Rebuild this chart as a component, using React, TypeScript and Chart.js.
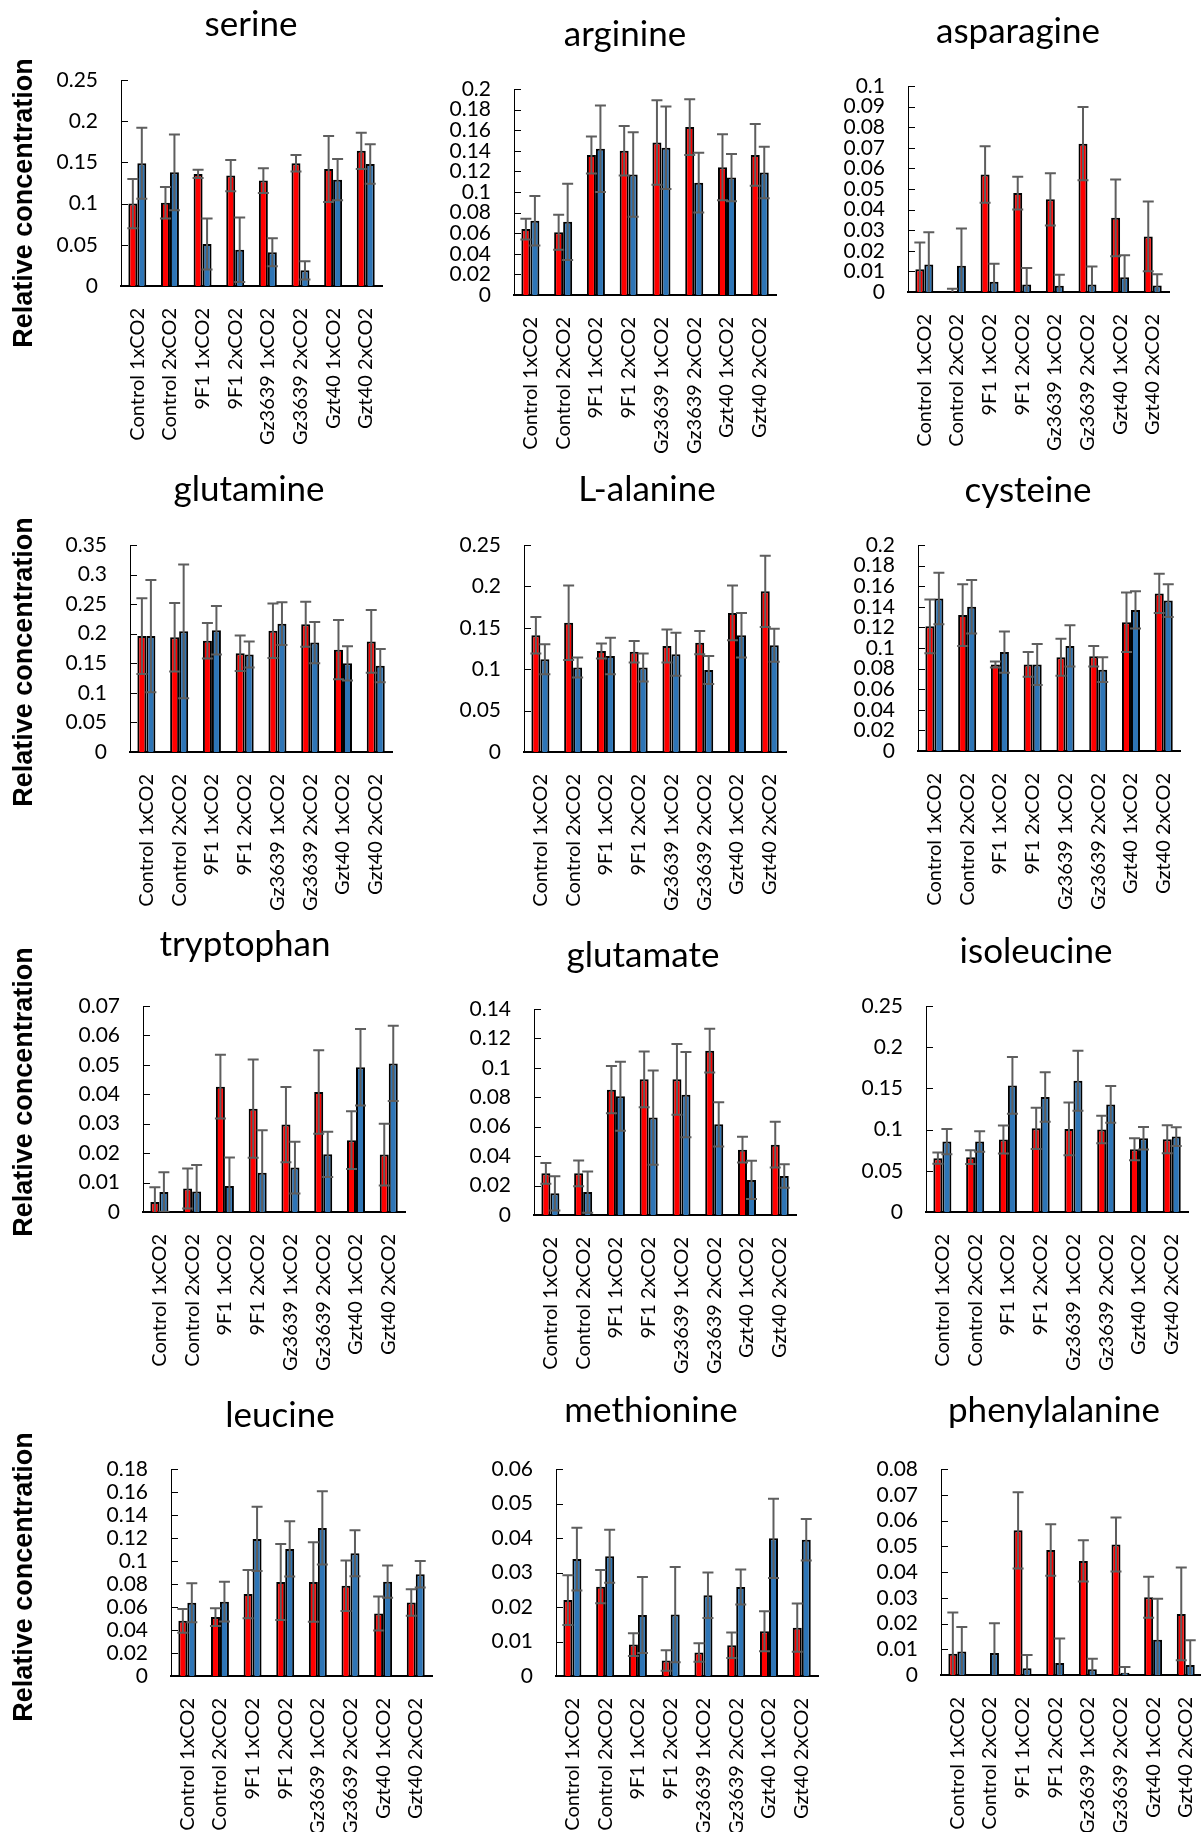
import React, { useEffect, useRef } from 'react';
import { Chart, registerables } from 'chart.js';

Chart.register(...registerables);

const categories = [
  'Control 1xCO2', 'Control 2xCO2', '9F1 1xCO2', '9F1 2xCO2',
  'Gz3639 1xCO2', 'Gz3639 2xCO2', 'Gzt40 1xCO2', 'Gzt40 2xCO2',
];

const serineRed = [0.100, 0.101, 0.136, 0.134, 0.128, 0.149, 0.142, 0.164];
const serineRedErr = [0.030, 0.019, 0.005, 0.019, 0.015, 0.010, 0.040, 0.022];
const serineBlue = [0.149, 0.138, 0.051, 0.044, 0.041, 0.019, 0.129, 0.148];
const serineBlueErr = [0.043, 0.046, 0.031, 0.039, 0.017, 0.011, 0.025, 0.024];

const arginineRed = [0.064, 0.061, 0.136, 0.140, 0.148, 0.163, 0.124, 0.136];
const arginineRedErr = [0.010, 0.017, 0.018, 0.024, 0.041, 0.027, 0.032, 0.030];
const arginineBlue = [0.072, 0.071, 0.142, 0.117, 0.143, 0.109, 0.114, 0.119];
const arginineBlueErr = [0.024, 0.037, 0.042, 0.041, 0.040, 0.029, 0.023, 0.025];

const asparagineRed = [0.011, 0.0003, 0.057, 0.048, 0.045, 0.072, 0.036, 0.027];
const asparagineRedErr = [0.013, 0.0013, 0.0137, 0.008, 0.0127, 0.0178, 0.0186, 0.0169];
const asparagineBlue = [0.0134, 0.0128, 0.005, 0.0037, 0.003, 0.0037, 0.0071, 0.0032];
const asparagineBlueErr = [0.0156, 0.018, 0.0087, 0.008, 0.0054, 0.0087, 0.0107, 0.0054];

const glutamineRed = [0.196, 0.194, 0.188, 0.167, 0.205, 0.216, 0.173, 0.187];
const glutamineRedErr = [0.064, 0.058, 0.030, 0.030, 0.046, 0.038, 0.050, 0.053];
const glutamineBlue = [0.196, 0.204, 0.206, 0.165, 0.217, 0.185, 0.150, 0.146];
const glutamineBlueErr = [0.095, 0.113, 0.041, 0.022, 0.036, 0.035, 0.029, 0.028];

const alanineRed = [0.141, 0.156, 0.122, 0.121, 0.128, 0.132, 0.168, 0.194];
const alanineRedErr = [0.022, 0.045, 0.009, 0.013, 0.020, 0.014, 0.033, 0.043];
const alanineBlue = [0.112, 0.102, 0.116, 0.102, 0.118, 0.099, 0.141, 0.129];
const alanineBlueErr = [0.018, 0.012, 0.022, 0.017, 0.026, 0.017, 0.027, 0.020];

const cysteineRed = [0.121, 0.132, 0.084, 0.084, 0.091, 0.092, 0.125, 0.153];
const cysteineRedErr = [0.026, 0.030, 0.003, 0.012, 0.018, 0.010, 0.029, 0.019];
const cysteineBlue = [0.148, 0.140, 0.096, 0.084, 0.102, 0.079, 0.137, 0.146];
const cysteineBlueErr = [0.025, 0.026, 0.020, 0.020, 0.020, 0.012, 0.018, 0.016];

const tryptophanRed = [0.0034, 0.008, 0.0426, 0.0351, 0.0297, 0.0408, 0.0244, 0.0195];
const tryptophanRedErr = [0.005, 0.0068, 0.0108, 0.0167, 0.0128, 0.0142, 0.0098, 0.0105];
const tryptophanBlue = [0.0068, 0.007, 0.0088, 0.0133, 0.0151, 0.0196, 0.0492, 0.0505];
const tryptophanBlueErr = [0.0067, 0.009, 0.0097, 0.0145, 0.0088, 0.0077, 0.013, 0.0128];

const glutamateRed = [0.0283, 0.0283, 0.0852, 0.0922, 0.0922, 0.1117, 0.0444, 0.0478];
const glutamateRedErr = [0.0071, 0.0088, 0.016, 0.019, 0.024, 0.0148, 0.0087, 0.0156];
const glutamateBlue = [0.0147, 0.0156, 0.0807, 0.0662, 0.0818, 0.0616, 0.0238, 0.0265];
const glutamateBlueErr = [0.0116, 0.014, 0.0235, 0.032, 0.029, 0.015, 0.013, 0.008];

const isoleucineRed = [0.0653, 0.0665, 0.0879, 0.1016, 0.1008, 0.100, 0.0762, 0.0883];
const isoleucineRedErr = [0.0068, 0.0083, 0.017, 0.025, 0.032, 0.0167, 0.0133, 0.017];
const isoleucineBlue = [0.0855, 0.0855, 0.1536, 0.1395, 0.1593, 0.1306, 0.0895, 0.0915];
const isoleucineBlueErr = [0.0153, 0.0125, 0.0345, 0.030, 0.0363, 0.0222, 0.0137, 0.0113];

const leucineRed = [0.048, 0.0512, 0.0712, 0.0817, 0.0817, 0.0785, 0.0544, 0.064];
const leucineRedErr = [0.0103, 0.0077, 0.021, 0.033, 0.0346, 0.022, 0.0148, 0.0115];
const leucineBlue = [0.0637, 0.0646, 0.1192, 0.1105, 0.1288, 0.1067, 0.082, 0.0885];
const leucineBlueErr = [0.0169, 0.0173, 0.028, 0.024, 0.0318, 0.020, 0.014, 0.0115];

const methionineRed = [0.022, 0.0259, 0.0091, 0.0045, 0.0068, 0.0089, 0.013, 0.014];
const methionineRedErr = [0.0072, 0.0048, 0.0033, 0.003, 0.0027, 0.0037, 0.0058, 0.007];
const methionineBlue = [0.0339, 0.0347, 0.0177, 0.0178, 0.0234, 0.0258, 0.0399, 0.0395];
const methionineBlueErr = [0.0091, 0.0077, 0.011, 0.0138, 0.0066, 0.0051, 0.0115, 0.006];

const phenylalanineRed = [0.0083, 0, 0.0562, 0.0485, 0.0443, 0.0507, 0.0302, 0.0237];
const phenylalanineRedErr = [0.016, 0, 0.0148, 0.01, 0.008, 0.0105, 0.008, 0.018];
const phenylalanineBlue = [0.0091, 0.0085, 0.0026, 0.0047, 0.0022, 0.0009, 0.0137, 0.0039];
const phenylalanineBlueErr = [0.0095, 0.0116, 0.0052, 0.0095, 0.0041, 0.0022, 0.0159, 0.0096];

const Y_TITLE = 'Relative concentration';

const RED = '#FF0000';
const BLUE = '#2E75B6';
const FONT = 'Lato';

type PanelSpec = {
  title: string;
  red: number[]; redErr: number[]; blue: number[]; blueErr: number[];
  max: number; step: number;
  plot: [number, number, number, number]; // L, T, R, B
  titleAt: [number, number];
  leftCol: boolean;
  yTitleY?: number;
};

const panels: PanelSpec[] = [
  { title: 'serine', red: serineRed, redErr: serineRedErr, blue: serineBlue, blueErr: serineBlueErr, max: 0.25, step: 0.05, plot: [121, 80, 393, 286], titleAt: [251, 36], leftCol: true, yTitleY: 203 },
  { title: 'arginine', red: arginineRed, redErr: arginineRedErr, blue: arginineBlue, blueErr: arginineBlueErr, max: 0.2, step: 0.02, plot: [514, 89, 787, 295], titleAt: [625, 46], leftCol: false },
  { title: 'asparagine', red: asparagineRed, redErr: asparagineRedErr, blue: asparagineBlue, blueErr: asparagineBlueErr, max: 0.1, step: 0.01, plot: [908, 86, 1180, 292], titleAt: [1018, 43], leftCol: false },
  { title: 'glutamine', red: glutamineRed, redErr: glutamineRedErr, blue: glutamineBlue, blueErr: glutamineBlueErr, max: 0.35, step: 0.05, plot: [130, 545, 403, 752], titleAt: [249, 501], leftCol: true, yTitleY: 662 },
  { title: 'L-alanine', red: alanineRed, redErr: alanineRedErr, blue: alanineBlue, blueErr: alanineBlueErr, max: 0.25, step: 0.05, plot: [524, 545, 797, 752], titleAt: [647, 501], leftCol: false },
  { title: 'cysteine', red: cysteineRed, redErr: cysteineRedErr, blue: cysteineBlue, blueErr: cysteineBlueErr, max: 0.2, step: 0.02, plot: [918, 545, 1191, 751], titleAt: [1028, 502], leftCol: false },
  { title: 'tryptophan', red: tryptophanRed, redErr: tryptophanRedErr, blue: tryptophanBlue, blueErr: tryptophanBlueErr, max: 0.07, step: 0.01, plot: [143, 1006, 416, 1212], titleAt: [245, 956], leftCol: true, yTitleY: 1092 },
  { title: 'glutamate', red: glutamateRed, redErr: glutamateRedErr, blue: glutamateBlue, blueErr: glutamateBlueErr, max: 0.14, step: 0.02, plot: [534, 1009, 807, 1215], titleAt: [643, 967], leftCol: false },
  { title: 'isoleucine', red: isoleucineRed, redErr: isoleucineRedErr, blue: isoleucineBlue, blueErr: isoleucineBlueErr, max: 0.25, step: 0.05, plot: [926, 1006, 1199, 1212], titleAt: [1036, 963], leftCol: false },
  { title: 'leucine', red: leucineRed, redErr: leucineRedErr, blue: leucineBlue, blueErr: leucineBlueErr, max: 0.18, step: 0.02, plot: [171, 1469, 443, 1676], titleAt: [280, 1427], leftCol: true, yTitleY: 1577 },
  { title: 'methionine', red: methionineRed, redErr: methionineRedErr, blue: methionineBlue, blueErr: methionineBlueErr, max: 0.06, step: 0.01, plot: [556, 1469, 829, 1676], titleAt: [651, 1422], leftCol: false },
  { title: 'phenylalanine', red: phenylalanineRed, redErr: phenylalanineRedErr, blue: phenylalanineBlue, blueErr: phenylalanineBlueErr, max: 0.08, step: 0.01, plot: [941, 1469, 1213, 1675], titleAt: [1054, 1422], leftCol: false },
];

const TOP_SPACE = 100;
const BOTTOM_SPACE = 185;
const RIGHT_SPACE = 20;

const decorPlugin = {
  id: 'decor',
  afterDatasetsDraw(chart: any, _args: any, opts: any) {
    const { ctx, chartArea } = chart;
    const yScale = chart.scales.y;
    ctx.save();
    ctx.beginPath();
    ctx.rect(chartArea.left, chartArea.top - 40, chartArea.right - chartArea.left + 40, chartArea.bottom - chartArea.top + 40);
    ctx.clip();
    ctx.strokeStyle = '#5E5E5E';
    ctx.lineWidth = 2;
    const cap = 5.5;
    chart.data.datasets.forEach((ds: any, i: number) => {
      const meta = chart.getDatasetMeta(i);
      meta.data.forEach((el: any, j: number) => {
        const v = ds.data[j];
        const e = ds.errors[j];
        if (!e) return;
        const x = el.x;
        const yt = yScale.getPixelForValue(v + e);
        const yb = yScale.getPixelForValue(v - e);
        ctx.beginPath();
        ctx.moveTo(x, yt); ctx.lineTo(x, yb);
        ctx.moveTo(x - cap, yt); ctx.lineTo(x + cap, yt);
        if (v - e >= 0) { ctx.moveTo(x - cap, yb); ctx.lineTo(x + cap, yb); }
        ctx.stroke();
      });
    });
    ctx.restore();

    // inside tick marks on the value axis
    ctx.save();
    ctx.strokeStyle = '#000';
    ctx.lineWidth = 1;
    yScale.ticks.forEach((t: any) => {
      const y = Math.round(yScale.getPixelForValue(t.value)) + 0.5;
      ctx.beginPath();
      ctx.moveTo(chartArea.left, y);
      ctx.lineTo(chartArea.left + 7, y);
      ctx.stroke();
    });
    ctx.restore();
  },
  afterDraw(chart: any, _args: any, opts: any) {
    const { ctx } = chart;
    ctx.save();
    ctx.fillStyle = '#000';
    ctx.font = `35px ${FONT}`;
    ctx.textAlign = 'center';
    ctx.textBaseline = 'alphabetic';
    ctx.fillText(opts.title, opts.titleX, opts.titleY);
    if (opts.yTitle) {
      ctx.translate(opts.yTitleX, opts.yTitleY);
      ctx.rotate(-Math.PI / 2);
      ctx.font = 'bold 27px "Liberation Sans", Arial, sans-serif';
      ctx.fillText(opts.yTitle, 0, 0);
    }
    ctx.restore();
  },
};

function fmt(v: number) {
  return String(Number(Number(v).toFixed(4)));
}

function PanelChart({ spec }: { spec: PanelSpec }) {
  const ref = useRef<HTMLCanvasElement | null>(null);
  const [L, T, R, B] = spec.plot;
  const cl = spec.leftCol ? 0 : L - 130;
  const ct = T - TOP_SPACE;
  const cw = R + RIGHT_SPACE - cl;
  const ch = B + BOTTOM_SPACE - ct;
  const yw = L - cl;
  const xh = BOTTOM_SPACE;

  useEffect(() => {
    if (!ref.current) return;
    const chart = new Chart(ref.current, {
      type: 'bar',
      data: {
        labels: categories,
        datasets: [
          { label: '1', data: spec.red, errors: spec.redErr, backgroundColor: RED, borderColor: '#000', borderWidth: 2 } as any,
          { label: '2', data: spec.blue, errors: spec.blueErr, backgroundColor: BLUE, borderColor: '#000', borderWidth: 2 } as any,
        ],
      },
      plugins: [decorPlugin as any],
      options: {
        animation: false,
        responsive: false,
        maintainAspectRatio: false,
        events: [],
        devicePixelRatio: 1,
        layout: { padding: { left: 0, top: TOP_SPACE, right: RIGHT_SPACE, bottom: 0 } },
        datasets: { bar: { categoryPercentage: 0.55, barPercentage: 1 } },
        plugins: {
          legend: { display: false },
          tooltip: { enabled: false },
          title: { display: false },
          decor: {
            title: spec.title,
            titleX: spec.titleAt[0] - cl,
            titleY: spec.titleAt[1] - ct,
            yTitle: spec.leftCol ? Y_TITLE : null,
            yTitleX: 31.5 - cl,
            yTitleY: (spec.yTitleY || 0) - ct,
          },
        } as any,
        scales: {
          x: {
            type: 'category',
            offset: true,
            grid: { display: false, drawTicks: false },
            border: { display: true, color: '#000', width: 2 },
            ticks: {
              autoSkip: false,
              minRotation: 90,
              maxRotation: 90,
              padding: 22,
              color: '#000',
              font: { family: FONT, size: 20 },
            },
            afterFit: (s: any) => { s.height = xh; },
          },
          y: {
            type: 'linear',
            min: 0,
            max: spec.max,
            grid: { display: false, drawTicks: false },
            border: { display: true, color: '#000', width: 1 },
            ticks: {
              autoSkip: false,
              padding: 23,
              color: '#000',
              font: { family: FONT, size: 21 },
              callback: (v: any) => fmt(v),
            },
            afterBuildTicks: (s: any) => {
              const n = Math.round(spec.max / spec.step);
              const t = [];
              for (let i = 0; i <= n; i++) t.push({ value: Number((i * spec.step).toFixed(4)) });
              s.ticks = t;
            },
            afterFit: (s: any) => { s.width = yw; },
          },
        },
      } as any,
    });
    return () => chart.destroy();
  }, [spec]);

  return (
    <canvas
      ref={ref}
      width={cw}
      height={ch}
      style={{ position: 'absolute', left: cl, top: ct, width: cw, height: ch }}
    />
  );
}

export default function App() {
  return (
    <div style={{ position: 'absolute', left: 0, top: 0, width: 1201, height: 1832, overflow: 'hidden', background: '#fff' }}>
      {panels.map((p) => (
        <PanelChart key={p.title} spec={p} />
      ))}
    </div>
  );
}
